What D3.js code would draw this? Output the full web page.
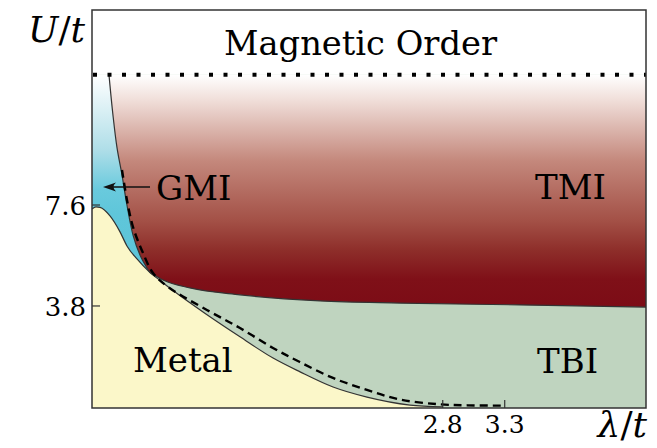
<!DOCTYPE html>
<html>
<head>
<meta charset="utf-8">
<script src="https://cdn.jsdelivr.net/npm/d3@7/dist/d3.min.js"></script>
<style>
  html, body { margin: 0; padding: 0; background: #fff; }
  svg { display: block; }
</style>
</head>
<body>
<svg id="chart" width="657" height="448"></svg>
<script>
// ---------- data (λ/t , U/t) ----------
const lambdaTicks = [2.8, 3.3];
const uTicks = [3.8, 7.6];
const magneticU = 12.5;            // onset of magnetic order (dotted line)
const tripleLambda = 0.438, tripleU = 5.06;

// Metal boundary (Metal below)
const metalBoundary = [
  [-0.03, 7.45], [0.002, 7.53], [0.035, 7.51], [0.115, 7.19], [0.196, 6.59],
  [0.252, 6.06], [0.333, 5.57], [0.438, 5.06], [0.519, 4.76], [0.624, 4.38],
  [0.898, 3.47], [1.164, 2.64], [1.431, 1.84], [1.649, 1.32], [1.915, 0.75],
  [2.189, 0.37], [2.536, 0.07], [2.8, 0.0]
];
// GMI / TMI boundary
const gmiTmiBoundary = [
  [0.107, 12.5], [0.139, 10.99], [0.172, 9.75], [0.212, 8.73], [0.252, 7.60],
  [0.301, 6.47], [0.357, 5.72], [0.415, 5.22], [0.438, 5.06]
];
// TMI / TBI boundary
const tmiTbiBoundary = [
  [0.438, 5.06], [0.543, 4.78], [0.760, 4.48], [1.164, 4.22], [1.809, 3.99],
  [2.454, 3.91], [3.422, 3.84], [4.44, 3.76]
];
// dashed line
const dashedLine = [
  [0.212, 8.92], [0.252, 7.79], [0.301, 6.77], [0.381, 5.80], [0.462, 5.04],
  [0.583, 4.52], [0.897, 3.65], [1.164, 2.97], [1.430, 2.22], [1.647, 1.69],
  [1.914, 1.09], [2.188, 0.64], [2.454, 0.28], [2.77, 0.10], [3.0, 0.06], [3.3, 0.05]
];

// ---------- layout ----------
const svg = d3.select("#chart");
const L = 92, R = 646, T = 10, B = 408;
const x = d3.scaleLinear([-0.03, 4.44], [L, R]);
const y = d3.scaleLinear([-0.04, 14.94], [B, T]);
const lambdaMin = x.domain()[0], lambdaMax = x.domain()[1];

const defs = svg.append("defs");
defs.append("clipPath").attr("id", "plotClip")
  .append("rect").attr("x", L).attr("y", T).attr("width", R - L).attr("height", B - T);

const tmiGrad = defs.append("linearGradient").attr("id", "tmiGrad")
  .attr("gradientUnits", "userSpaceOnUse")
  .attr("x1", 0).attr("x2", 0).attr("y1", y(magneticU)).attr("y2", y(3.76));
[[0, "#ffffff"], [0.11, "rgb(240,222,217)"], [0.37, "rgb(196,136,124)"],
 [0.63, "rgb(163,80,70)"], [0.755, "rgb(142,46,42)"], [0.88, "rgb(127,16,24)"],
 [1, "rgb(124,12,22)"]].forEach(([o, c]) =>
  tmiGrad.append("stop").attr("offset", o).attr("stop-color", c));

const gmiGrad = defs.append("linearGradient").attr("id", "gmiGrad")
  .attr("gradientUnits", "userSpaceOnUse")
  .attr("x1", 0).attr("x2", 0).attr("y1", y(magneticU)).attr("y2", y(tripleU));
[[0, "#ffffff"], [0.38, "rgb(175,222,232)"], [0.58, "rgb(105,202,221)"],
 [0.7, "rgb(95,198,218)"], [1, "rgb(92,196,216)"]].forEach(([o, c]) =>
  gmiGrad.append("stop").attr("offset", o).attr("stop-color", c));

const lineX = d3.line().x(d => x(d[0])).y(d => y(d[1])).curve(d3.curveMonotoneX);
const lineC = d3.line().x(d => x(d[0])).y(d => y(d[1])).curve(d3.curveCatmullRom.alpha(0.5));
const join = (...segs) => segs.map((s, i) => i ? s.replace(/^M/, "L") : s).join("") + "Z";
const pt = (l, u) => `M${x(l)},${y(u)}`;

const g = svg.append("g").attr("clip-path", "url(#plotClip)");

// TBI background below magnetic line
g.append("rect").attr("x", L).attr("width", R - L)
  .attr("y", y(magneticU)).attr("height", B - y(magneticU)).attr("fill", "#bfd4bf");
// TMI
g.append("path").attr("fill", "url(#tmiGrad)")
  .attr("d", join(lineC(gmiTmiBoundary), lineX(tmiTbiBoundary),
                  pt(lambdaMax + 0.1, 3.76), pt(lambdaMax + 0.1, magneticU)));
// GMI
g.append("path").attr("fill", "url(#gmiGrad)")
  .attr("d", join(pt(lambdaMin - 0.1, magneticU), lineC(gmiTmiBoundary),
                  pt(tripleLambda, -1), pt(lambdaMin - 0.1, -1)));
// Metal
g.append("path").attr("fill", "#fbf7c9")
  .attr("d", join(pt(lambdaMin - 0.1, 7.45), lineX(metalBoundary),
                  pt(2.8, -1), pt(lambdaMin - 0.1, -1)));

// boundaries
const bStyle = s => s.attr("fill", "none").attr("stroke", "#333").attr("stroke-width", 1.2);
g.append("path").attr("d", lineX(metalBoundary)).call(bStyle);
g.append("path").attr("d", lineC(gmiTmiBoundary)).call(bStyle);
g.append("path").attr("d", lineX(tmiTbiBoundary)).call(bStyle);

// dashed
g.append("path").attr("d", lineC(dashedLine))
  .attr("fill", "none").attr("stroke", "#000").attr("stroke-width", 2.4)
  .attr("stroke-dasharray", "8 5");

// dotted magnetic line
svg.append("line").attr("x1", L + 1).attr("x2", R)
  .attr("y1", y(magneticU)).attr("y2", y(magneticU))
  .attr("stroke", "#000").attr("stroke-width", 4).attr("stroke-dasharray", "4 10.5");

// frame
svg.append("rect").attr("x", L).attr("y", T).attr("width", R - L).attr("height", B - T)
  .attr("fill", "none").attr("stroke", "#333").attr("stroke-width", 1.5);

// text helper
const txt = (tx, ty, size) => svg.append("text").attr("x", tx).attr("y", ty)
  .attr("font-size", size).style("font-family", '"DejaVu Serif"');

// ticks
uTicks.forEach(u => {
  svg.append("line").attr("x1", L).attr("x2", L + 8).attr("y1", y(u)).attr("y2", y(u))
    .attr("stroke", "#333").attr("stroke-width", 1.2);
  txt(L - 6, y(u) + 10, 26).attr("text-anchor", "end").text(u.toFixed(1));
});
lambdaTicks.forEach(l => {
  svg.append("line").attr("x1", x(l)).attr("x2", x(l)).attr("y1", B).attr("y2", B - 8)
    .attr("stroke", "#333").attr("stroke-width", 1.2);
  txt(x(l), 433, 25).attr("text-anchor", "middle").text(l.toFixed(1));
});

// axis labels
const ul = txt(85, 42, 36).attr("text-anchor", "end");
ul.append("tspan").attr("font-style", "italic").text("U");
ul.append("tspan").text("/");
ul.append("tspan").attr("font-style", "italic").text("t");
const ll = txt(647, 437, 36).attr("text-anchor", "end");
ll.append("tspan").attr("font-style", "italic").text("λ");
ll.append("tspan").text("/");
ll.append("tspan").attr("font-style", "italic").text("t");

// region labels
txt(224, 55, 34).attr("textLength", 273).attr("lengthAdjust", "spacingAndGlyphs").text("Magnetic Order");
txt(156, 200, 34).text("GMI");
txt(535, 199, 34).text("TMI");
txt(133, 372, 34).text("Metal");
txt(537, 373, 34).text("TBI");

// GMI arrow
const ay = 187;
svg.append("line").attr("x1", 150).attr("x2", 110).attr("y1", ay).attr("y2", ay)
  .attr("stroke", "#111").attr("stroke-width", 1.3);
svg.append("path").attr("fill", "#111")
  .attr("d", `M103,${ay} L116,${ay - 4.5} Q111,${ay} 116,${ay + 4.5} Z`);
</script>
</body>
</html>
